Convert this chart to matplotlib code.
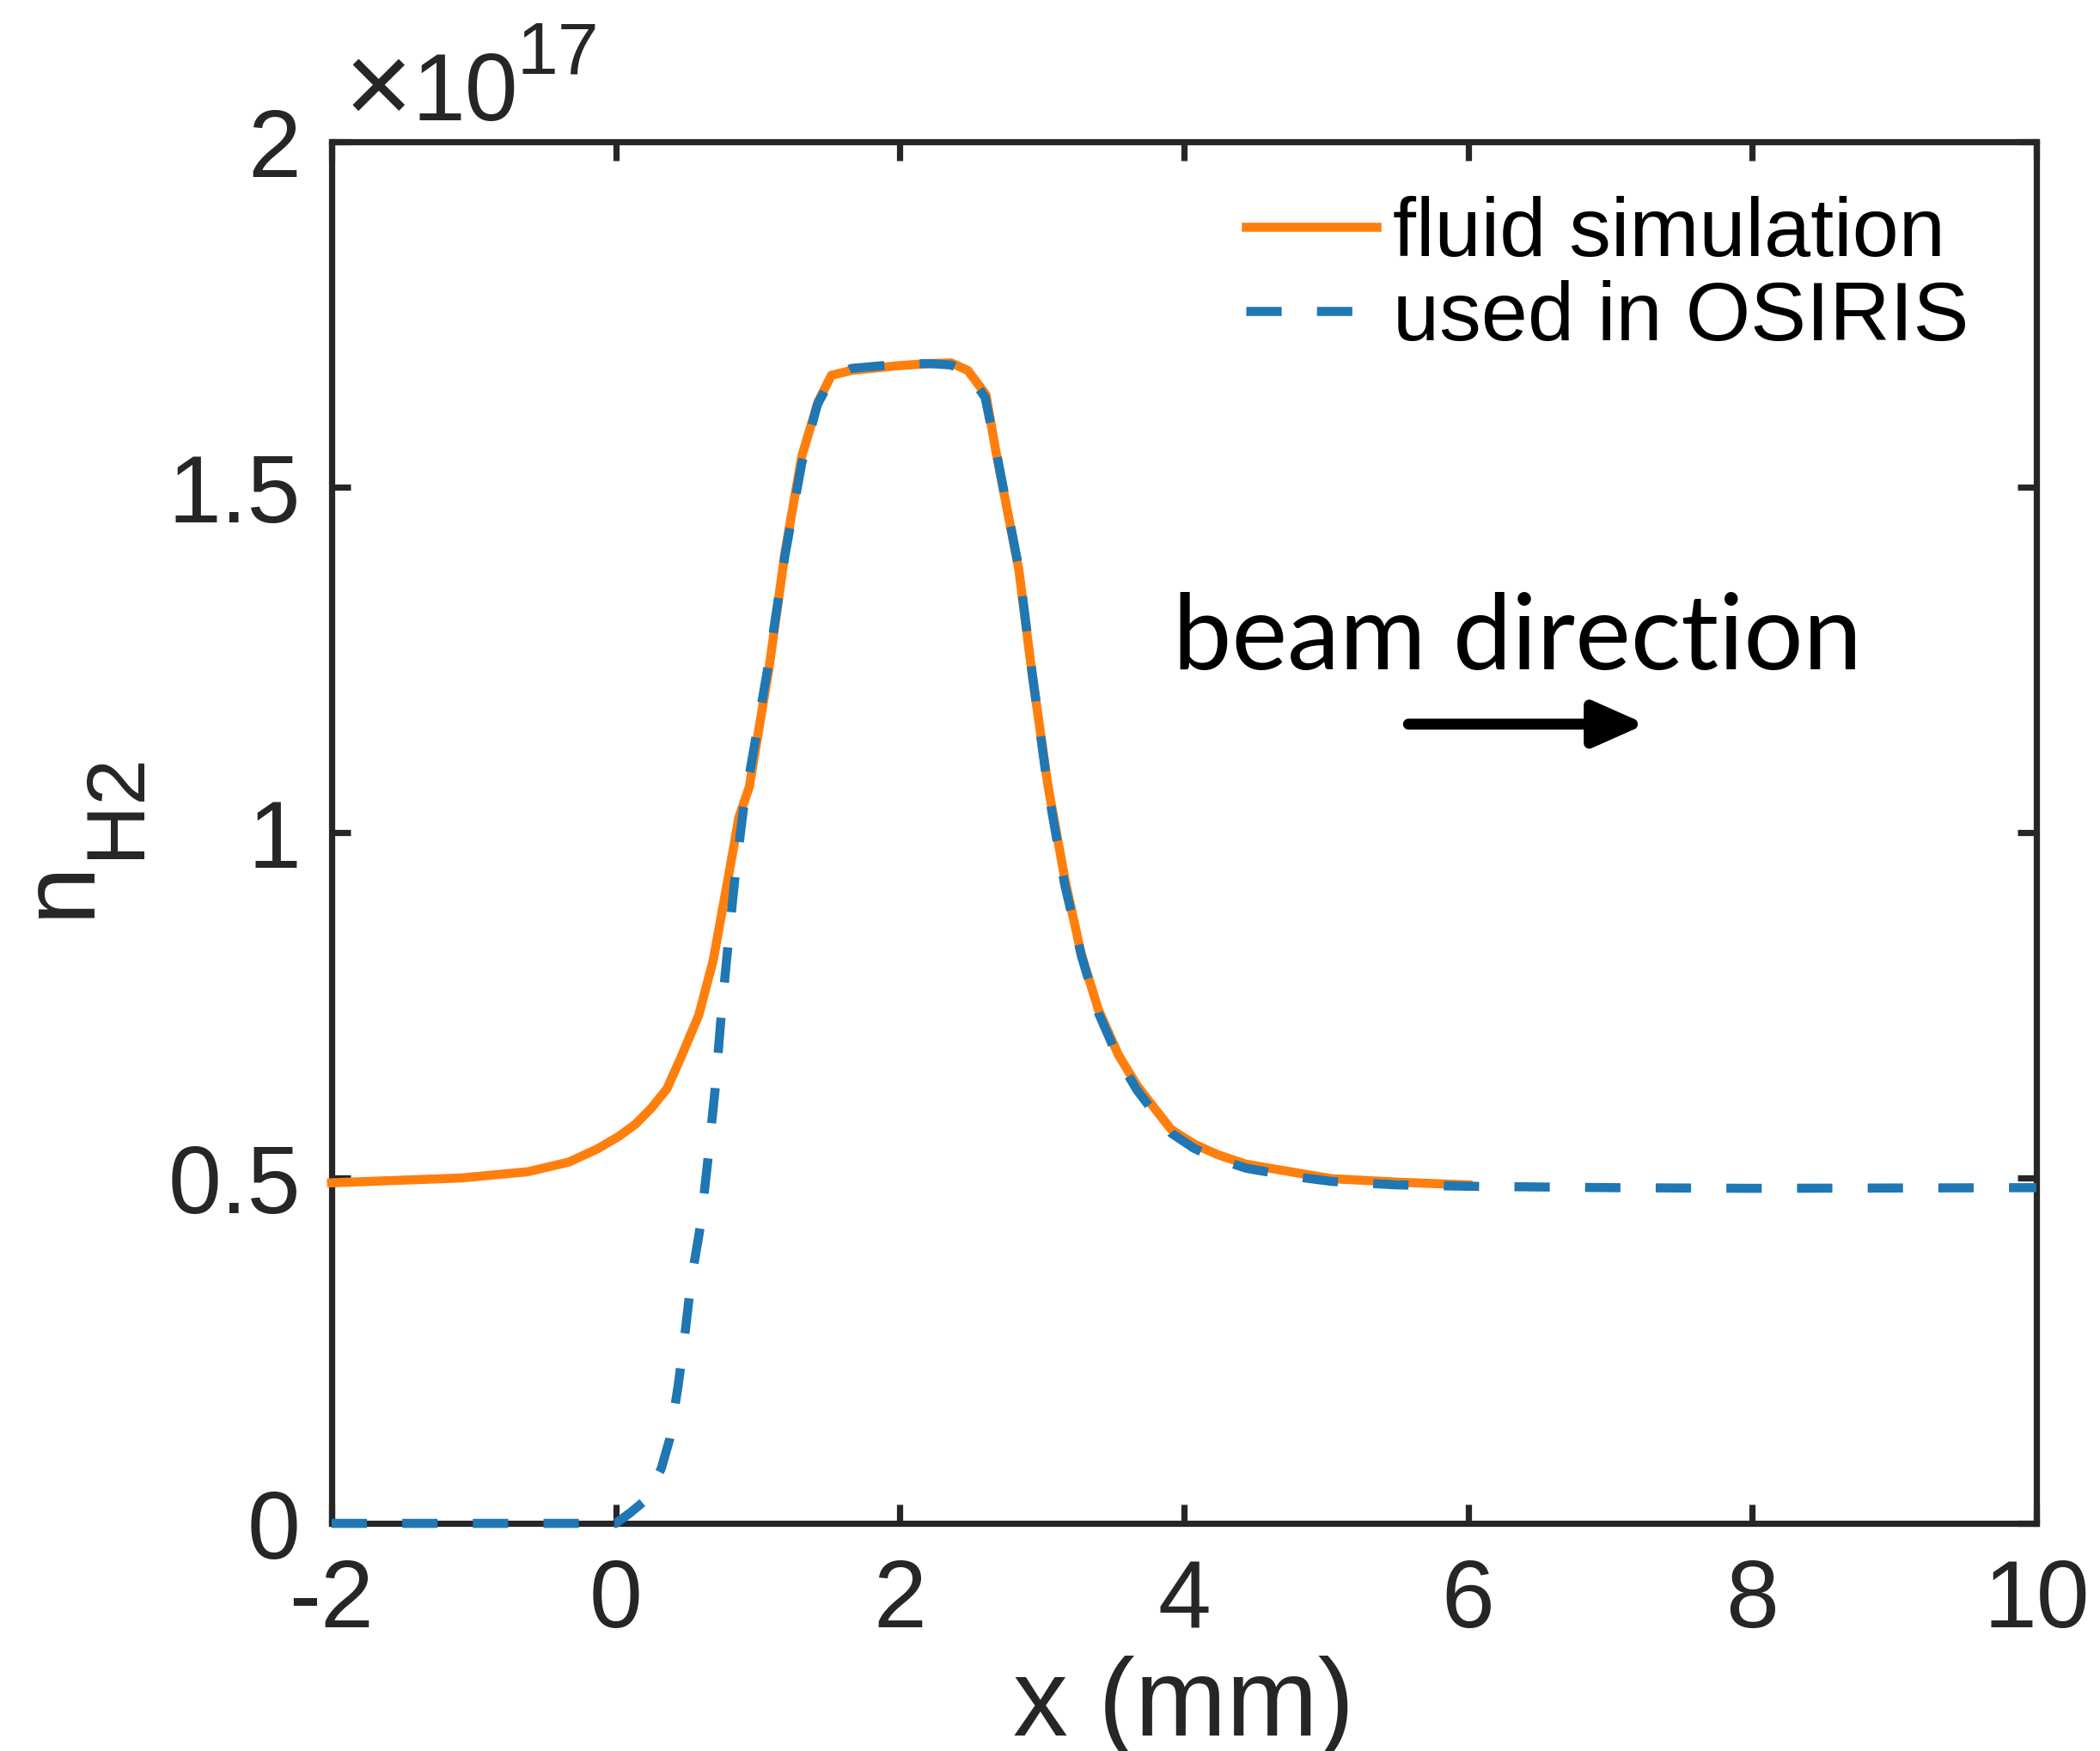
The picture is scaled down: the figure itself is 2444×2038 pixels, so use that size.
import numpy as np
import matplotlib
matplotlib.use('Agg')
import matplotlib.pyplot as plt
from matplotlib.ticker import FuncFormatter

plt.rcParams['font.family'] = 'Liberation Sans'
plt.rcParams['axes.unicode_minus'] = False

# gas density profile along the jet axis (units of 1e17 cm^-3)
fluid_x = [-2.0, -1.09, -0.62, -0.33, -0.13, 0.02, 0.14, 0.25, 0.36, 0.46, 0.585,
           0.686, 0.787, 0.867, 0.94, 1.079, 1.194, 1.31, 1.425, 1.518, 1.657,
           1.992, 2.213, 2.361, 2.479, 2.606, 2.676, 2.838, 2.929, 3.044, 3.165,
           3.276, 3.397, 3.539, 3.669, 3.80, 3.911, 4.073, 4.234, 4.436, 4.779,
           5.04, 5.5, 6.0]
fluid_n = [0.493, 0.500, 0.509, 0.523, 0.542, 0.560, 0.578, 0.601, 0.629, 0.675,
           0.736, 0.815, 0.929, 1.022, 1.066, 1.238, 1.409, 1.545, 1.624, 1.662,
           1.669, 1.676, 1.679, 1.680, 1.669, 1.634, 1.552, 1.380, 1.233, 1.066,
           0.929, 0.825, 0.744, 0.678, 0.634, 0.599, 0.570, 0.549, 0.534, 0.520,
           0.508, 0.499, 0.494, 0.490]

osiris_x = [-2.0, 0.0, 0.1, 0.2, 0.32, 0.38, 0.44, 0.49, 0.53, 0.6, 0.65, 0.7,
            0.74, 0.79, 0.84, 0.9, 0.98, 1.08, 1.19, 1.31, 1.42, 1.52, 1.66,
            1.99, 2.21, 2.36, 2.48, 2.6, 2.68, 2.84, 2.93, 3.04, 3.16, 3.28,
            3.40, 3.54, 3.67, 3.80, 3.91, 4.07, 4.23, 4.44, 4.78, 5.04, 5.5,
            6.0, 7.0, 8.0, 10.0]
osiris_n = [0.0, 0.0, 0.015, 0.032, 0.079, 0.122, 0.200, 0.279, 0.350, 0.435,
            0.529, 0.629, 0.729, 0.836, 0.936, 1.036, 1.13, 1.25, 1.40, 1.535,
            1.62, 1.658, 1.672, 1.678, 1.679, 1.677, 1.666, 1.63, 1.55, 1.38,
            1.233, 1.066, 0.925, 0.82, 0.738, 0.672, 0.627, 0.592, 0.565, 0.543,
            0.528, 0.514, 0.502, 0.495, 0.490, 0.488, 0.486, 0.485, 0.486]

x_ticks = [-2, 0, 2, 4, 6, 8, 10]
y_ticks = [0, 0.5e17, 1e17, 1.5e17, 2e17]
scale = 1e17

dark = '#262626'
orange = '#ff7f0e'
blue = '#1f77b4'
lw = 3.8

fig = plt.figure(figsize=(12.22, 10.19), dpi=200)
ax = fig.add_axes([0.1579, 0.1300, 0.9697 - 0.1579, 0.9190 - 0.1300])

ax.plot(fluid_x, np.array(fluid_n) * scale, color=orange, lw=lw,
        label='fluid simulation', zorder=3, clip_on=False)
ax.plot(osiris_x, np.array(osiris_n) * scale, color=blue, lw=lw,
        linestyle=(0, (14.8 / lw, 14.8 / lw)), label='used in OSIRIS',
        zorder=4, clip_on=False)

ax.set_xlim(-2, 10)
ax.set_ylim(0, 2e17)
ax.set_xticks(x_ticks)
ax.set_yticks(y_ticks)
ax.xaxis.set_major_formatter(FuncFormatter(lambda v, _: f'{v:g}'))
ax.yaxis.set_major_formatter(FuncFormatter(lambda v, _: f'{v / scale:g}'))
ax.tick_params(direction='in', length=8, width=2.6, color=dark,
               labelcolor=dark, labelsize=40, top=True, right=True)
ax.tick_params(axis='x', pad=14.5)
ax.tick_params(axis='y', pad=13)
for sp in ax.spines.values():
    sp.set_linewidth(2.6)
    sp.set_color(dark)
    sp.set_zorder(2)

# exponent label above the y axis, pieced together like MATLAB draws it
fig.text(401 / 2444, 1 - 144 / 2038, '\u00d7', fontsize=49, color=dark,
         ha='left', va='baseline')
fig.text(480 / 2444, 1 - 140 / 2038, '10', fontsize=40, color=dark,
         ha='left', va='baseline')
fig.text(602 / 2444, 1 - 85 / 2038, '17', fontsize=31, color=dark,
         ha='left', va='baseline')

ax.set_xlabel('x (mm)', fontsize=46, color=dark)
ax.xaxis.set_label_coords(0.5, -0.1536)
ax.xaxis.label.set_va('baseline')

# y label with a large MATLAB-style subscript
fig.text(103 / 2444, 1 - 1068 / 2038, 'n', fontsize=44, color=dark,
         rotation=90, rotation_mode='anchor', ha='left', va='baseline')
fig.text(161 / 2444, 1 - 999 / 2038, 'H2', fontsize=35, color=dark,
         rotation=90, rotation_mode='anchor', ha='left', va='baseline')

ax.legend(loc='upper left', bbox_to_anchor=(1450 / 2444, 1 - 228 / 2038),
          bbox_transform=fig.transFigure, frameon=False, fontsize=35,
          handlelength=1.56, handletextpad=0.2, labelspacing=0.08,
          borderpad=0, borderaxespad=0)

ax.text(3.921, 1.236e17, 'beam direction', fontsize=44, family='Lato',
        color='black', ha='left', va='baseline')
ax.annotate('', xy=(7.25, 1.157e17), xytext=(5.58, 1.157e17),
            arrowprops=dict(arrowstyle='-|>,head_length=1.8,head_width=0.8',
                            lw=4.6, color='black', shrinkA=0, shrinkB=0,
                            mutation_scale=10))

fig.savefig('out.png', dpi=200)
